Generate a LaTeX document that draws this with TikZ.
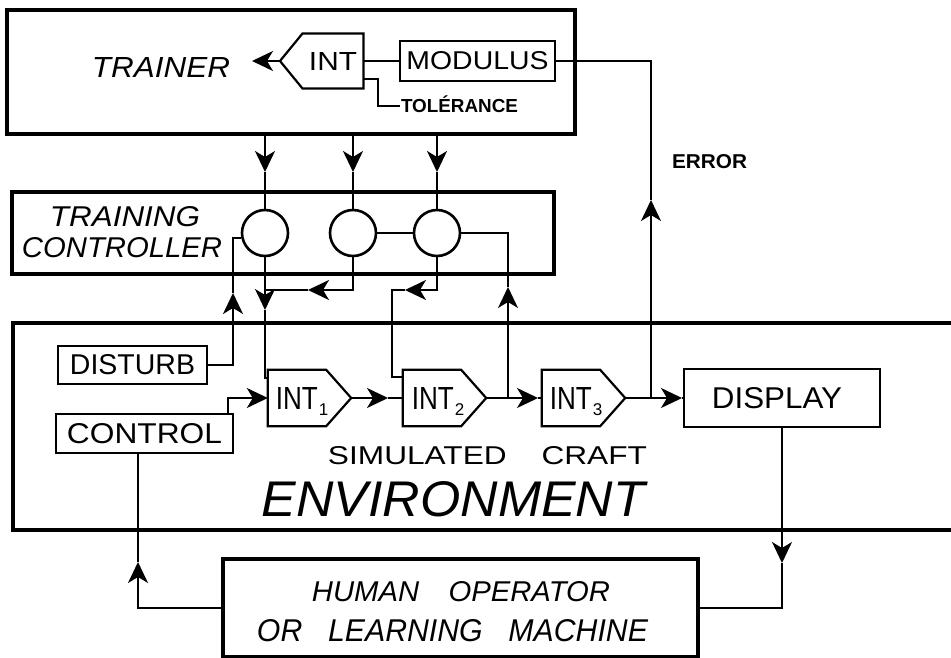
\documentclass[tikz,border=0pt]{standalone}
\usepackage{graphicx}
\usepackage{fontspec}
\setmainfont{Liberation Sans}
\usetikzlibrary{arrows.meta,calc}
\tikzset{
  >={Stealth[length=21pt,width=20pt,inset=6pt]},
  bigbox/.style={draw, line width=3.2pt},
  smallbox/.style={draw, line width=2.2pt},
  wire/.style={line width=1.8pt},
  arr/.style={wire, ->},
  circ/.style={draw, circle, line width=2.6pt, minimum size=46pt, inner sep=0pt},
  txt/.style={inner sep=0pt, outer sep=0pt},
  intshape/.style={minimum width=83pt, minimum height=56pt, inner sep=0pt},
}
\newcommand\fitbox[3]{\resizebox{#1}{#2}{#3}}
\newcommand\intlab[1]{\fitbox{42pt}{22pt}{INT}\kern1pt\raisebox{-6pt}{\fontsize{17pt}{17pt}\selectfont #1}}
\newcommand\intpent[1]{\draw[smallbox] (#1.north west) -- ($(#1.north east)+(-25,0)$) -- (#1.east) -- ($(#1.south east)+(-25,0)$) -- (#1.south west) -- cycle;}
\begin{document}
\begin{tikzpicture}[x=1pt,y=-1pt]
\useasboundingbox (0,0) rectangle (951,658);
\fill[white] (0,0) rectangle (951,658);

% ---------------- Trainer
\node[bigbox, minimum width=568pt, minimum height=124pt, inner sep=0pt] (trainer) at (291,72) {};
\node[txt] (trainertxt) at (161,67) {\fitbox{138pt}{20pt}{\itshape TRAINER}};
\node[txt, minimum width=61pt, minimum height=55pt] (int0) at (333,61) {\fitbox{48pt}{18pt}{INT}};
\coordinate (int0tip) at (280,61);
\draw[smallbox] (int0.north west) -- (int0.north east) -- (int0.south east) -- (int0.south west) -- (int0tip) -- cycle;
\coordinate (trarrow) at (252,61);
\draw[arr] (int0tip) -- (trarrow);
\node[smallbox, minimum width=155pt, minimum height=40pt, inner sep=0pt] (modulus) at (477.5,61) {\fitbox{142pt}{18pt}{MODULUS}};
\draw[wire] (int0.east) -- (modulus.west);
\node[txt, anchor=base west] (tol) at (401,113) {\resizebox{117pt}{!}{\bfseries TOLÉRANCE}};
\coordinate (tolin) at (400,106);
\draw[wire] ($(int0.east)+(0,18)$) -| (378,106) -- (tolin);

% ---------------- Error
\node[txt] (errortxt) at (709.5,162) {\fitbox{75pt}{14pt}{\bfseries ERROR}};
\coordinate (errj) at (651,398);
\coordinate (errtip) at (651,200);
\coordinate (errtop) at (651,61);

% ---------------- Training controller
\node[bigbox, minimum width=542pt, minimum height=82pt, inner sep=0pt] (tc) at (283,233) {};
\node[txt] (tc1) at (125,217) {\fitbox{150pt}{20pt}{\itshape TRAINING}};
\node[txt] (tc2) at (122,248) {\fitbox{200pt}{20pt}{\itshape CONTROLLER}};
\node[circ] (c1) at (265,233) {};
\node[circ] (c2) at (353,233) {};
\node[circ] (c3) at (437,233) {};
\draw[wire] (c2) -- (c3);

\draw[arr] (trainer.south -| c1) -- (c1 |- 0,172);
\draw[wire] (c1 |- 0,172) -- (c1.north);
\draw[arr] (trainer.south -| c2) -- (c2 |- 0,172);
\draw[wire] (c2 |- 0,172) -- (c2.north);
\draw[arr] (trainer.south -| c3) -- (c3 |- 0,172);
\draw[wire] (c3 |- 0,172) -- (c3.north);

% ---------------- Environment
\draw[bigbox] (956,323) -- (13,323) -- (13,530) -- (956,530);
\node[smallbox, minimum width=149pt, minimum height=38pt, inner sep=0pt] (disturb) at (132.5,365) {\fitbox{125pt}{20pt}{DISTURB}};
\node[smallbox, minimum width=177pt, minimum height=39pt, inner sep=0pt] (control) at (144.5,433.5) {\fitbox{155pt}{20pt}{CONTROL}};

\node[intshape] (int1) at (309.5,398) {};
\node[intshape] (int2) at (444.5,398) {};
\node[intshape] (int3) at (583.5,398) {};
\intpent{int1}
\intpent{int2}
\intpent{int3}
\node[txt, anchor=base] at (302,409) {\intlab{1}};
\node[txt, anchor=base] at (438,409) {\intlab{2}};
\node[txt, anchor=base] at (576,409) {\intlab{3}};

\node[smallbox, minimum width=196pt, minimum height=58pt, inner sep=0pt] (display) at (782,398) {};
\node[txt] (disptxt) at (777,398.5) {\fitbox{130pt}{21pt}{DISPLAY}};

\node[txt] (simtxt) at (487.5,456) {\fitbox{319pt}{18pt}{SIMULATED\hspace{1.1em}CRAFT}};
\node[txt] (envtxt) at (453.5,499.5) {\fitbox{383pt}{35pt}{\itshape ENVIRONMENT}};

% chain
\draw[arr] (control.north east) ++(-6,0) |- (int1.west);
\draw[arr] (int1.east) -- (388,398);
\draw[wire] (388,398) -- (int2.west);
\draw[arr] (int2.east) -- (538,398);
\draw[wire] (538,398) -- (int3.west);
\draw[arr] (int3.east) -- (682,398);
\draw[wire] (682,398) -- (display.west);

% error feedback
\draw[arr] (errj) -- (errtip);
\draw[wire] (errtip) -- (errtop) -- (modulus.east);

% disturb into c1
\draw[arr] (disturb.east) -| (233,293);
\draw[wire] (233,293) |- (c1.192);

% c1 to int1
\draw[arr] (c1.south) -- (c1 |- 0,310);
\draw[wire] (c1 |- 0,310) |- ($(int1.north west)+(0,8)$);

% c2 to c1 line
\draw[arr] (c2.south) |- (308,290);
\draw[wire] (308,290) -- (c1 |- 0,290);

% c3 to int2
\draw[arr] (c3.south) |- (405,290);
\draw[wire] (405,290) -- (392,290) |- ($(int2.north west)+(0,7)$);

% int2 output to c3
\coordinate (j2) at (508,398);
\draw[arr] (j2) -- (508,287);
\draw[wire] (508,287) |- (c3.east);

% ---------------- Human operator
\node[bigbox, minimum width=475pt, minimum height=98pt, inner sep=0pt] (human) at (460.5,608) {};
\node[txt] (h1) at (461,592) {\fitbox{298pt}{20pt}{\itshape HUMAN\hspace{1em}OPERATOR}};
\node[txt] (h2) at (452.5,631) {\fitbox{391pt}{22pt}{\itshape OR\hspace{0.85em}LEARNING\hspace{0.85em}MACHINE}};

\draw[arr] (human.west) -| (138,562);
\draw[wire] (138,562) -- (control.south -| 138,0);
\draw[arr] (display.south) -- (display.south |- 0,563);
\draw[wire] (display.south |- 0,563) |- (human.east);
\end{tikzpicture}
\end{document}
